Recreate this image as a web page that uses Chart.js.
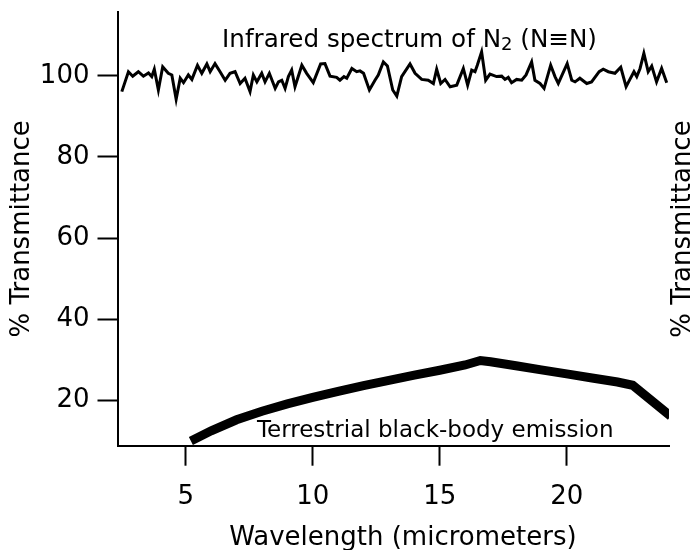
<!DOCTYPE html>
<html>
<head>
<meta charset="utf-8">
<script src="https://cdn.jsdelivr.net/npm/chart.js@4.4.1/dist/chart.umd.min.js"></script>
<style>
  body { margin: 0; background: #fff; }
</style>
</head>
<body>
<canvas id="spectrum" width="700" height="550"></canvas>
<script>
// N2 infrared spectrum (noisy, ~100% transmittance)
const n2Wavelength = [2.48, 2.74, 2.91, 3.13, 3.33, 3.53, 3.66, 3.76, 3.92, 4.09, 4.31, 4.45, 4.62, 4.78, 4.91,
  5.10, 5.24, 5.46, 5.63, 5.83, 5.96, 6.15, 6.35, 6.55, 6.74, 6.94, 7.14, 7.33, 7.53, 7.66,
  7.80, 7.99, 8.12, 8.29, 8.52, 8.65, 8.78, 8.91, 9.04, 9.17, 9.30, 9.57, 9.76,
  10.02, 10.31, 10.48, 10.68, 10.94, 11.07, 11.23, 11.34, 11.54, 11.73, 11.86, 12.00, 12.23, 12.45, 12.58,
  12.78, 12.94, 13.15, 13.31, 13.50, 13.83, 14.03, 14.29, 14.55, 14.75, 14.88, 15.04, 15.21, 15.41, 15.67,
  15.93, 16.10, 16.26, 16.39, 16.48, 16.65, 16.81, 16.98,
  17.24, 17.44, 17.57, 17.70, 17.83, 18.03, 18.23, 18.40, 18.62, 18.75, 18.95, 19.11, 19.37, 19.54, 19.67,
  20.02, 20.20, 20.33, 20.52, 20.79, 20.98, 21.28, 21.44, 21.64, 21.90, 22.13, 22.34, 22.49, 22.65, 22.76,
  22.89, 23.04, 23.21, 23.35, 23.54, 23.74, 23.94];
const n2Transmittance = [96.1, 101.0, 99.9, 101.0, 99.9, 100.7, 99.8, 101.6, 96.5, 102.2, 100.6, 100.2, 94.2, 99.4, 98.3,
  100.2, 99.1, 102.6, 100.6, 102.9, 101.0, 103.0, 101.0, 98.9, 100.6, 101.0, 98.1, 99.4, 96.1, 100.2,
  98.5, 100.6, 98.5, 100.6, 96.9, 98.5, 98.9, 96.9, 99.8, 101.4, 97.3, 102.6, 100.6,
  98.3, 102.9, 103.0, 99.9, 99.6, 98.9, 99.8, 99.4, 101.8, 101.0, 101.2, 100.6, 96.5, 98.9, 100.2,
  103.4, 102.4, 96.5, 95.0, 99.8, 102.9, 100.6, 99.1, 98.9, 98.1, 101.6, 98.1, 99.1, 97.3, 97.7,
  101.8, 97.7, 101.4, 101.0, 102.6, 105.9, 98.9, 100.4,
  99.8, 99.9, 99.1, 99.6, 98.3, 99.1, 98.9, 100.2, 103.4, 98.9, 98.1, 96.9, 102.6, 99.8, 98.1,
  103.0, 98.9, 98.5, 99.4, 98.1, 98.5, 101.0, 101.6, 101.0, 100.6, 102.1, 97.3, 99.1, 101.0, 99.8,
  101.8, 105.5, 101.0, 102.4, 98.5, 101.8, 98.3];

// terrestrial black-body emission curve
const bbWavelength = [5.2, 6, 7, 8, 9, 10, 11, 12, 13, 14, 15, 16, 16.6, 17, 18, 19, 20, 21, 22, 22.6, 24.1];
const bbEmission = [10.1, 12.6, 15.3, 17.4, 19.2, 20.8, 22.3, 23.7, 25.0, 26.3, 27.5, 28.8, 29.9, 29.6, 28.6, 27.6, 26.6, 25.6, 24.6, 23.8, 16.2];

const xTicks = [5, 10, 15, 20];
const yTicks = [20, 40, 60, 80, 100];

const titleText = ['Infrared spectrum of N', '2', ' (N\u2261N)'];
const noteText = 'Terrestrial black-body emission';
const yTitle = '% Transmittance';
const xTitle = 'Wavelength (micrometers)';

const FONT = '"DejaVu Sans", sans-serif';

function toPoints(xs, ys) {
  return xs.map((v, i) => ({ x: v, y: ys[i] }));
}

// draws title, curve label, x title and the right-hand axis title
const textPlugin = {
  id: 'extraText',
  afterDraw(chart) {
    const { ctx, chartArea, scales } = chart;
    const x = scales.x, y = scales.y;
    ctx.save();
    ctx.fillStyle = '#000';
    ctx.textAlign = 'left';
    ctx.textBaseline = 'alphabetic';

    // title with subscript
    let tx = x.getPixelForValue(6.43);
    const ty = y.getPixelForValue(107.1);
    ctx.font = '24.6px ' + FONT;
    ctx.fillText(titleText[0], tx, ty);
    tx += ctx.measureText(titleText[0]).width;
    ctx.font = '18px ' + FONT;
    ctx.fillText(titleText[1], tx, ty + 3);
    tx += ctx.measureText(titleText[1]).width;
    ctx.font = '24.6px ' + FONT;
    ctx.fillText(titleText[2], tx, ty);

    // curve label
    ctx.font = '23px ' + FONT;
    ctx.fillText(noteText, x.getPixelForValue(7.8), y.getPixelForValue(11.14));

    // x axis title
    ctx.font = '26px ' + FONT;
    ctx.textAlign = 'center';
    ctx.textBaseline = 'middle';
    ctx.fillText(xTitle, x.getPixelForValue(13.55), 538);

    // right side axis title
    ctx.translate(chartArea.right + 14, 229);
    ctx.rotate(-Math.PI / 2);
    ctx.fillText(yTitle, 0, 0);
    ctx.restore();
  }
};

new Chart(document.getElementById('spectrum'), {
  type: 'scatter',
  data: {
    datasets: [
      {
        label: 'N2',
        data: toPoints(n2Wavelength, n2Transmittance),
        showLine: true,
        borderColor: '#000',
        borderWidth: 3,
        pointRadius: 0,
        tension: 0
      },
      {
        label: 'black-body',
        data: toPoints(bbWavelength, bbEmission),
        showLine: true,
        borderColor: '#000',
        borderWidth: 9,
        borderCapStyle: 'butt',
        pointRadius: 0,
        tension: 0
      }
    ]
  },
  options: {
    responsive: false,
    animation: false,
    layout: { padding: { top: 12, right: 31, left: 0, bottom: 0 } },
    plugins: {
      legend: { display: false },
      tooltip: { enabled: false }
    },
    scales: {
      x: {
        type: 'linear',
        min: 2.31,
        max: 24.03,
        afterBuildTicks: s => { s.ticks = xTicks.map(v => ({ value: v })); },
        afterFit: s => { s.height = 104.3; s.paddingLeft = 0; s.paddingRight = 0; },
        border: { display: true, color: '#000', width: 2 },
        grid: { drawOnChartArea: false, drawTicks: true, tickLength: 20, tickWidth: 2, tickColor: '#000' },
        ticks: { color: '#000', padding: 16, maxRotation: 0, font: { family: FONT, size: 26 } },
        title: { display: false }
      },
      y: {
        type: 'linear',
        min: 8.92,
        max: 115.7,
        afterBuildTicks: s => { s.ticks = yTicks.map(v => ({ value: v })); },
        afterFit: s => { s.width = 117.5; s.paddingTop = 0; s.paddingBottom = 0; },
        border: { display: true, color: '#000', width: 2 },
        grid: { drawOnChartArea: false, drawTicks: true, tickLength: 20, tickWidth: 2, tickColor: '#000' },
        ticks: { color: '#000', padding: 8, font: { family: FONT, size: 26 } },
        title: { display: true, text: yTitle, color: '#000', padding: { top: 7, bottom: 0 }, font: { family: FONT, size: 26, lineHeight: 1.2 } }
      }
    }
  },
  plugins: [textPlugin]
});
</script>
</body>
</html>
